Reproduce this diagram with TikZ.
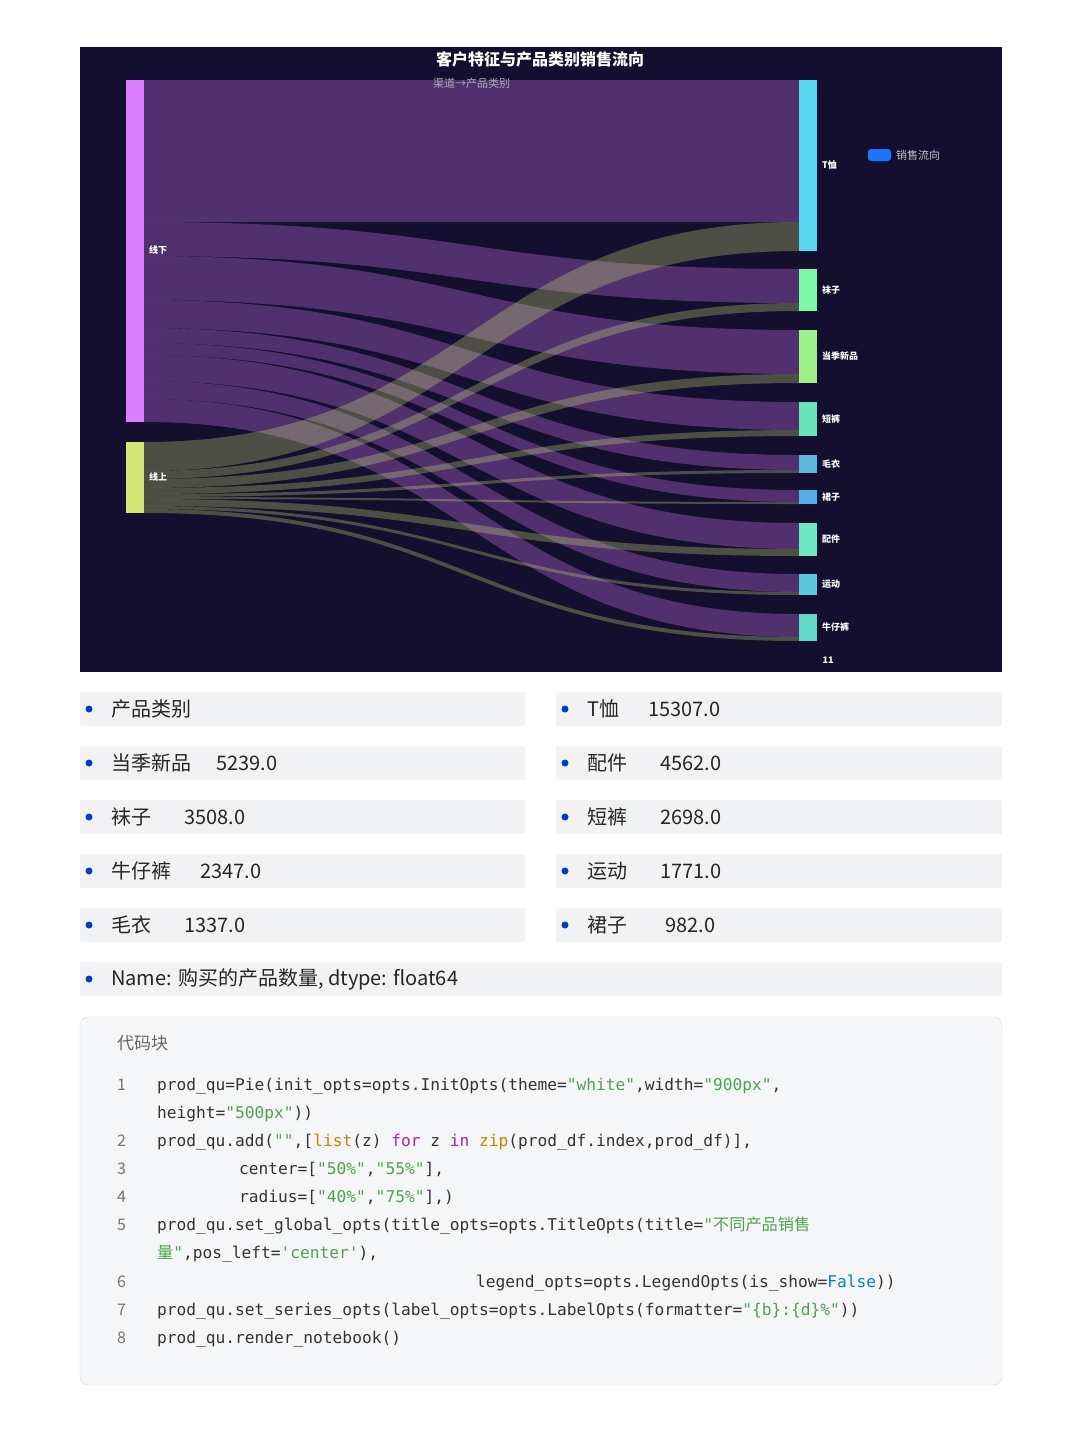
\documentclass[tikz,border=0pt]{standalone}
\usepackage{fontspec}
\setmainfont{Noto Sans CJK SC}
\newfontfamily\cjk{Noto Sans CJK SC}
\setmonofont{DejaVu Sans Mono}
\definecolor{bg}{HTML}{140F2E}
\definecolor{offc}{HTML}{DC80FF}
\definecolor{onc}{HTML}{D4E67A}
\definecolor{boxg}{HTML}{F1F2F4}
\definecolor{strc}{HTML}{50A14F}
\definecolor{kwc}{HTML}{A626A4}
\definecolor{bic}{HTML}{C18401}
\definecolor{blc}{HTML}{0184BC}
\newcommand\myflow[5]{\fill[#5] (144,#1) .. controls (471,#1) and (471,#3) .. (799,#3) -- (799,#4) .. controls (471,#4) and (471,#2) .. (144,#2) -- cycle;}
\newcommand\sz[1]{\fontsize{#1}{#1}\selectfont}
\begin{document}
\begin{tikzpicture}[x=1pt,y=-1pt,
  offf/.style={fill=offc,fill opacity=0.3},
  onf/.style={fill=onc,fill opacity=0.3},
  rlab/.style={text=white,anchor=west,font=\sz{9}\bfseries,inner sep=0},
  rowbox/.style={fill=boxg,rounded corners=2pt},
  rowtxt/.style={anchor=west,font=\sz{20},inner sep=0,text=black!85},
  dot/.style={circle,fill=blue!70!cyan!80!black,inner sep=0,minimum size=7pt},
  code/.style={anchor=base west,inner sep=0,font=\ttfamily\sz{16.2},text=black!80},
  lno/.style={anchor=base west,inner sep=0,font=\sz{16},text=black!55}]
\useasboundingbox (0,0) rectangle (1080,1440);
\fill[white] (0,0) rectangle (1080,1440);
% chart
\fill[bg] (80,47) rectangle (1002,672);
% flows offline
\myflow{80}{222}{80}{222}{offf}
\myflow{222}{256}{269}{303}{offf}
\myflow{256}{300}{330}{374}{offf}
\myflow{300}{328}{402}{430}{offf}
\myflow{328}{343}{455}{470}{offf}
\myflow{343}{355}{490}{502}{offf}
\myflow{355}{381}{523}{549}{offf}
\myflow{381}{399}{574}{592}{offf}
\myflow{399}{422}{614}{637}{offf}
% flows online
\myflow{442}{471}{222}{251}{onf}
\myflow{471}{479}{303}{311}{onf}
\myflow{479}{488}{374}{383}{onf}
\myflow{488}{494}{430}{436}{onf}
\myflow{494}{497}{470}{473}{onf}
\myflow{497}{499}{502}{504}{onf}
\myflow{499}{506}{549}{556}{onf}
\myflow{506}{509}{592}{595}{onf}
\myflow{509}{513}{637}{641}{onf}
% nodes
\node[fill=offc,inner sep=0,minimum width=18pt,minimum height=342pt,anchor=north west] (xx) at (126,80) {};
\node[fill=onc,inner sep=0,minimum width=18pt,minimum height=71pt,anchor=north west] (xs) at (126,442) {};
\node[rlab] at (149,250) {线下};
\node[rlab] at (149,477) {线上};
\foreach \t/\h/\c/\l in {80/171/5BD6F0/T恤,269/42/7EF5A8/袜子,330/53/9EF08A/当季新品,402/34/6AE3B8/短裤,455/18/5CB8E0/毛衣,490/14/56B0E8/裙子,523/33/6EE6C0/配件,574/21/5CC8DC/运动,614/27/62D8C4/牛仔裤}{
  \definecolor{tmpc}{HTML}{\c}
  \fill[tmpc] (799,\t) rectangle (817,\t+\h);
  \node[rlab] at (822,\t+\h/2) {\l};
}
\node[text=white,font=\sz{16}\bfseries,inner sep=0] (title) at (540,59) {客户特征与产品类别销售流向};
\node[text=white!65!bg,font=\sz{11},inner sep=0,anchor=west] (sub) at (433,83) {渠道→产品类别};
\fill[blue!60!cyan!90!white,rounded corners=3pt] (868,149) rectangle (891,161);
\node[text=white!75!bg,font=\sz{11},inner sep=0,anchor=west] (leg) at (896,155) {销售流向};
\node[text=white,font=\sz{9}\bfseries,inner sep=0] (eleven) at (828,660) {11};
% rows
\foreach \y in {709,763,817,871,925}{
  \fill[rowbox] (80,\y-17) rectangle (525,\y+17);
  \fill[rowbox] (556,\y-17) rectangle (1002,\y+17);
  \node[dot] at (89,\y) {};
  \node[dot] at (565,\y) {};
}
\fill[rowbox] (80,962) rectangle (1002,996);
\node[dot] at (89,979) {};
\node[rowtxt] at (111,709) {产品类别};
\node[rowtxt] at (111,763) {当季新品};
\node[rowtxt] at (216,763) {5239.0};
\node[rowtxt] at (111,817) {袜子};
\node[rowtxt] at (184,817) {3508.0};
\node[rowtxt] at (111,871) {牛仔裤};
\node[rowtxt] at (200,871) {2347.0};
\node[rowtxt] at (111,925) {毛衣};
\node[rowtxt] at (184,925) {1337.0};
\node[rowtxt] at (587,709) {T恤};
\node[rowtxt] at (648,709) {15307.0};
\node[rowtxt] at (587,763) {配件};
\node[rowtxt] at (660,763) {4562.0};
\node[rowtxt] at (587,817) {短裤};
\node[rowtxt] at (660,817) {2698.0};
\node[rowtxt] at (587,871) {运动};
\node[rowtxt] at (660,871) {1771.0};
\node[rowtxt] at (587,925) {裙子};
\node[rowtxt] at (665,925) {982.0};
\node[rowtxt] at (111,979) {Name: 购买的产品数量, dtype: float64};
% code block
\draw[fill=boxg!70!white,draw=black!15,rounded corners=8pt] (80,1017) rectangle (1002,1385);
\node[anchor=west,inner sep=0,font=\sz{17},text=black!60] at (117,1043) {代码块};
\foreach \n/\y in {1/1090,2/1146,3/1174,4/1202,5/1230,6/1287,7/1315,8/1343}{\node[lno] at (117,\y) {\n};}
\node[code] at (157,1090) {prod\_qu=Pie(init\_opts=opts.InitOpts(theme=\textcolor{strc}{"white"},width=\textcolor{strc}{"900px"},};
\node[code] at (157,1118) {height=\textcolor{strc}{"500px"}))};
\node[code] at (157,1146) {prod\_qu.add(\textcolor{strc}{""},[\textcolor{bic}{list}(z) \textcolor{kwc}{for} z \textcolor{kwc}{in} \textcolor{bic}{zip}(prod\_df.index,prod\_df)],};
\node[code] at (239,1174) {center=[\textcolor{strc}{"50\%"},\textcolor{strc}{"55\%"}],};
\node[code] at (239,1202) {radius=[\textcolor{strc}{"40\%"},\textcolor{strc}{"75\%"}],)};
\node[code] at (157,1230) {prod\_qu.set\_global\_opts(title\_opts=opts.TitleOpts(title=\textcolor{strc}{"{\cjk 不同产品销售}}};
\node[code] at (157,1258) {\textcolor{strc}{{\cjk 量}"},pos\_left=\textcolor{strc}{'center'}),};
\node[code] at (476,1287) {legend\_opts=opts.LegendOpts(is\_show=\textcolor{blc}{False}))};
\node[code] at (157,1315) {prod\_qu.set\_series\_opts(label\_opts=opts.LabelOpts(formatter=\textcolor{strc}{"\{b\}:\{d\}\%"}))};
\node[code] at (157,1343) {prod\_qu.render\_notebook()};
\end{tikzpicture}
\end{document}
